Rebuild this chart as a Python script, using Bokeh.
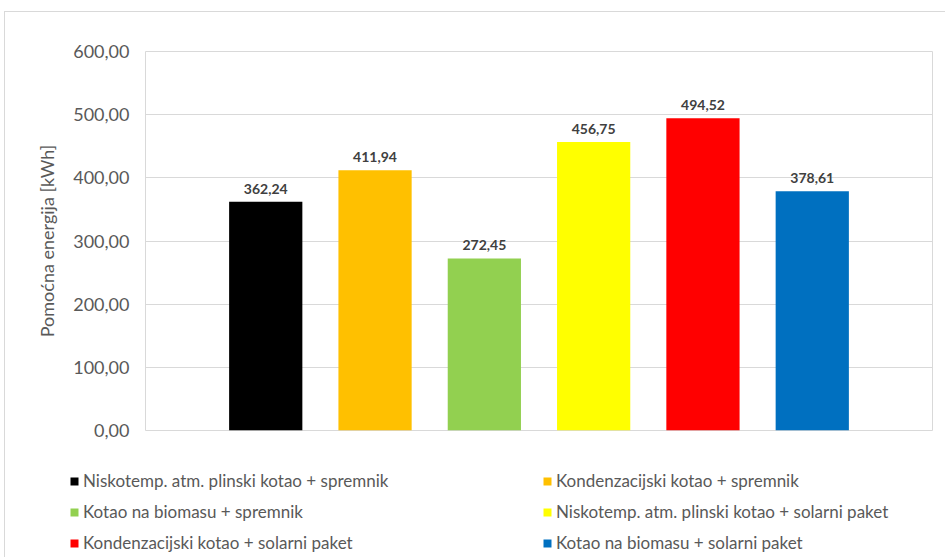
from bokeh.plotting import figure
from bokeh.core.properties import value
from bokeh.models import (ColumnDataSource, FactorRange, Range1d, FixedTicker,
                          CustomJSTickFormatter, LabelSet, Legend, LegendItem)
from bokeh.embed import file_html
from bokeh.resources import INLINE

series = [
    "Niskotemp. atm. plinski kotao + spremnik",
    "Kondenzacijski kotao + spremnik",
    "Kotao na biomasu + spremnik",
    "Niskotemp. atm. plinski kotao + solarni paket",
    "Kondenzacijski kotao + solarni paket",
    "Kotao na biomasu + solarni paket",
]
values = [362.24, 411.94, 272.45, 456.75, 494.52, 378.61]
colors = ["#000000", "#FFC000", "#92D050", "#FFFF00", "#FF0000", "#0070C0"]
y_ticks = [0, 100, 200, 300, 400, 500, 600]
y_label = "Pomoćna energija [kWh]"

FONT = "Lato"
GRAY = "#595959"
EDGE = "#d9d9d9"
LINE = f"linear-gradient({EDGE},{EDGE})"

labels = [f"{v:.2f}".replace(".", ",") for v in values]

p = figure(width=945, height=455, output_backend="svg", toolbar_location=None,
           x_range=FactorRange(factors=series, range_padding=0.6,
                               range_padding_units="absolute"),
           y_range=Range1d(0, 600),
           min_border_left=145, min_border_top=51, min_border_right=13,
           min_border_bottom=25)
p.border_fill_alpha = 0
p.styles = {"background": f"{LINE} 4px 11px / 941px 1px no-repeat, "
                          f"{LINE} 4px 11px / 1px 100% no-repeat, #ffffff"}

p.outline_line_color = EDGE
p.xgrid.grid_line_color = None
p.ygrid.grid_line_color = EDGE
p.ygrid.ticker = FixedTicker(ticks=y_ticks)
p.xaxis.visible = False

ya = p.yaxis[0]
ya.ticker = FixedTicker(ticks=y_ticks)
ya.formatter = CustomJSTickFormatter(code="return tick.toFixed(2).replace('.', ',');")
ya.axis_line_color = None
ya.major_tick_line_color = None
ya.minor_tick_line_color = None
ya.major_label_text_font = FONT
ya.major_label_text_font_size = "18px"
ya.major_label_text_color = GRAY
ya.major_label_standoff = 10
ya.axis_label = y_label
ya.axis_label_text_font = FONT
ya.axis_label_text_font_size = "18px"
ya.axis_label_text_font_style = "normal"
ya.axis_label_text_color = GRAY
ya.axis_label_standoff = 12

src = ColumnDataSource(dict(x=series, top=values, color=colors, label=labels))
p.vbar(x="x", top="top", width=0.67, color="color", source=src, line_color=None)

p.add_layout(LabelSet(x="x", y="top", text="label", source=src, y_offset=8,
                      text_align="center", text_baseline="bottom",
                      text_font=value(FONT), text_font_size="14px",
                      text_font_style="bold", text_color="#404040"))

# legend strip below the chart
lg = figure(width=945, height=102, output_backend="svg", toolbar_location=None,
            x_range=FactorRange(factors=series), y_range=Range1d(10000, 10001),
            min_border_left=0, min_border_top=0, min_border_right=0,
            min_border_bottom=0)
lg.axis.visible = False
lg.grid.visible = False
lg.outline_line_color = None
lg.border_fill_alpha = 0
lg.background_fill_alpha = 0
lg.styles = {"background": f"{LINE} 4px 0 / 1px 100% no-repeat, #ffffff"}
r = lg.vbar(x="x", top="top", width=0.67, color="color", source=src, line_color=None)

order = [0, 2, 4, 1, 3, 5]  # legend fills column-wise
items = [LegendItem(label=series[i], renderers=[r], index=i) for i in order]
legend = Legend(items=items, ncols=2, location=(69, 4),
                glyph_width=10, glyph_height=10, label_standoff=4,
                label_width=449, label_height=20, spacing=10,
                padding=0, margin=0, border_line_color=None,
                background_fill_alpha=0,
                label_text_font=FONT, label_text_font_size="17px",
                label_text_color=GRAY)
lg.add_layout(legend, "center")

open("out.html", "w").write(file_html([p, lg], INLINE))
